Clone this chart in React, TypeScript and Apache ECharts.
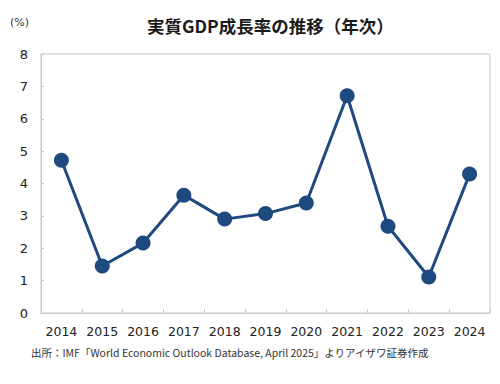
import React, { useEffect, useRef } from "react";
import * as echarts from "echarts";

const years = ["2014", "2015", "2016", "2017", "2018", "2019", "2020", "2021", "2022", "2023", "2024"];
const growth = [4.72, 1.45, 2.16, 3.64, 2.9, 3.07, 3.4, 6.71, 2.68, 1.11, 4.29];

const title = "実質GDP成長率の推移（年次）";
const unitLabel = "(%)";
const source = "出所：IMF「World Economic Outlook Database, April 2025」よりアイザワ証券作成";

const FONT = "'DejaVu Sans', Verdana, 'Noto Sans CJK JP', sans-serif";

export default function App() {
  const ref = useRef<HTMLDivElement>(null);
  useEffect(() => {
    const chart = echarts.init(ref.current!, null, { renderer: "svg" });
    chart.setOption({
      animation: false,
      backgroundColor: "#ffffff",
      textStyle: { fontFamily: FONT },
      graphic: [
        {
          type: "text",
          left: 147,
          top: 17,
          style: {
            text: title,
            fontSize: 17.5,
            fontWeight: "bold",
            fill: "#1a1a1a",
            fontFamily: "'Noto Sans CJK JP', sans-serif",
          },
        },
        {
          type: "text",
          left: 10,
          top: 17,
          style: { text: unitLabel, fontSize: 11, fill: "#333", fontFamily: FONT },
        },
        {
          type: "text",
          left: 31,
          top: 347,
          style: { text: source, fontSize: 10.5, fill: "#333", fontFamily: "'Noto Sans CJK JP', sans-serif" },
        },
      ],
      grid: {
        left: 41,
        right: 10,
        top: 54,
        bottom: 71,
        show: true,
        borderColor: "#c8c8c8",
        borderWidth: 1,
        containLabel: false,
      },
      xAxis: {
        type: "category",
        data: years,
        boundaryGap: true,
        axisLine: { lineStyle: { color: "#c8c8c8" } },
        axisTick: { show: true, inside: true, length: 4, lineStyle: { color: "#c8c8c8" } },
        axisLabel: { color: "#222", fontSize: 12.5, margin: 12, interval: 0, fontFamily: FONT },
      },
      yAxis: {
        type: "value",
        min: 0,
        max: 8,
        interval: 1,
        splitLine: { show: false },
        axisLine: { show: true, lineStyle: { color: "#c8c8c8" } },
        axisTick: { show: true, inside: true, length: 3, lineStyle: { color: "#c8c8c8" } },
        axisLabel: { color: "#222", fontSize: 13, margin: 13, fontFamily: FONT },
      },
      series: [
        {
          type: "line",
          data: growth,
          symbol: "circle",
          symbolSize: 15,
          itemStyle: { color: "#1f4a80" },
          lineStyle: { color: "#1f4a80", width: 3 },
        },
      ],
    });
    return () => chart.dispose();
  }, []);
  return <div ref={ref} style={{ width: 500, height: 384, margin: -8 }} />;
}
